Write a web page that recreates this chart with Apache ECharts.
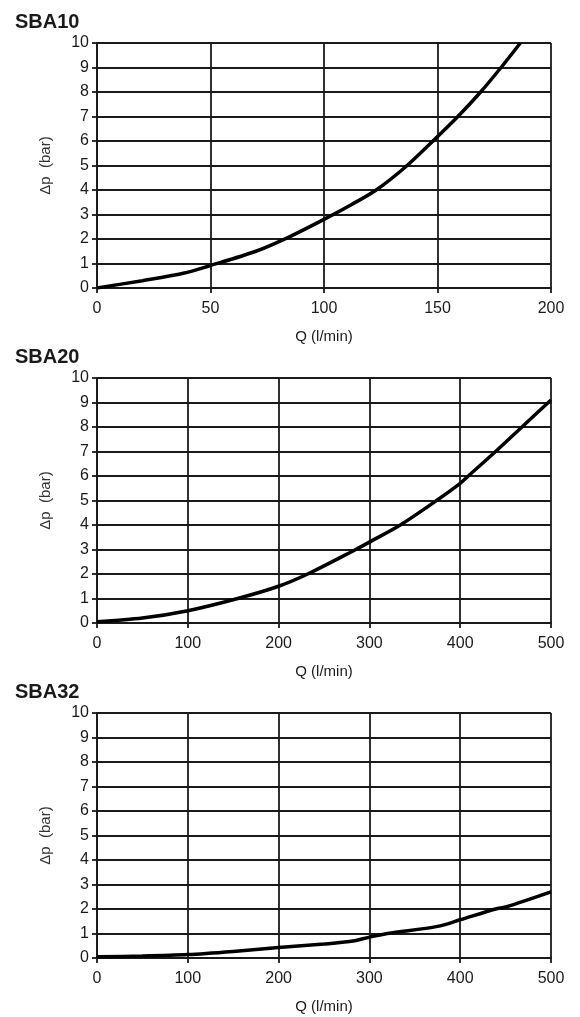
<!DOCTYPE html>
<html>
<head>
<meta charset="utf-8">
<script src="https://cdn.jsdelivr.net/npm/echarts@6/dist/echarts.min.js"></script>
<style>
  html, body { margin: 0; padding: 0; background: #fff; }
  #chart { width: 580px; height: 1017px; }
</style>
</head>
<body>
<div id="chart"></div>
<script>
// 图表标题
const titles = ["SBA10", "SBA20", "SBA32"];
// 横轴范围 Q (l/min)
const xMax = [200, 500, 500];
const xStep = [50, 100, 100];
// 曲线数据 [Q, Δp]
const sba10 = [[0, 0], [20, 0.3], [38, 0.6], [50, 0.92], [70, 1.5], [85, 2.1], [100, 2.8], [112, 3.4],
  [123, 4.0], [136, 4.95], [148, 6.0], [159, 7.0], [169, 8.0], [178, 9.0], [186.5, 10]];
const sba20 = [[0, 0.05], [50, 0.2], [100, 0.5], [155, 1.0], [200, 1.5], [232, 2.0], [285, 3.0],
  [300, 3.3], [334, 4.0], [374, 5.0], [400, 5.7], [409, 6.0], [439, 7.0], [468, 8.0], [500, 9.1]];
const sba32 = [[0, 0.05], [50, 0.08], [100, 0.14], [150, 0.27], [200, 0.43], [250, 0.57], [280, 0.68],
  [300, 0.85], [320, 1.0], [375, 1.29], [400, 1.56], [439, 2.0], [450, 2.08], [500, 2.7]];
const curves = [sba10, sba20, sba32];

const gridTops = [43, 378, 713];
const lineColor = "#1a1a1a";
const txt = "#1a1a1a";

let chart = echarts.init(document.getElementById("chart"));
let option = {
  animation: false,
  title: titles.map((t, i) => ({
    text: t,
    left: 10,
    top: gridTops[i] - 36,
    textStyle: { fontFamily: "Liberation Sans", fontWeight: "bold", fontSize: 20, color: txt },
  })),
  grid: gridTops.map((t) => ({ left: 97, width: 454, top: t, height: 245 })),
  xAxis: gridTops.map((t, i) => ({
    type: "value",
    gridIndex: i,
    min: 0,
    max: xMax[i],
    interval: xStep[i],
    name: "Q (l/min)",
    nameLocation: "middle",
    nameGap: 41,
    nameTextStyle: { fontFamily: "Liberation Sans", fontSize: 15, color: txt },
    axisLine: { show: true, onZero: false, lineStyle: { color: lineColor, width: 1.8 } },
    axisTick: { show: true, length: 5, lineStyle: { color: lineColor, width: 1.8 } },
    axisLabel: { fontFamily: "Liberation Sans", fontSize: 16, color: txt, margin: 13 },
    splitLine: { show: true, lineStyle: { color: lineColor, width: 1.8 } },
  })),
  yAxis: gridTops.map((t, i) => ({
    type: "value",
    gridIndex: i,
    min: 0,
    max: 10,
    interval: 1,
    name: "\u0394p  (bar)",
    nameLocation: "middle",
    nameRotate: 90,
    nameGap: 44,
    nameTextStyle: { fontFamily: "Liberation Sans", fontSize: 15, color: "#333" },
    axisLine: { show: true, onZero: false, lineStyle: { color: lineColor, width: 1.8 } },
    axisTick: { show: true, length: 5, lineStyle: { color: lineColor, width: 1.8 } },
    axisLabel: { fontFamily: "Liberation Sans", fontSize: 16, color: txt, margin: 8 },
    splitLine: { show: true, lineStyle: { color: lineColor, width: 1.8 } },
  })),
  series: curves.map((d, i) => ({
    type: "line",
    xAxisIndex: i,
    yAxisIndex: i,
    data: d,
    smooth: 0.3,
    showSymbol: false,
    lineStyle: { color: "#000", width: 3.5 },
  })),
};
chart.setOption(option);
</script>
</body>
</html>
